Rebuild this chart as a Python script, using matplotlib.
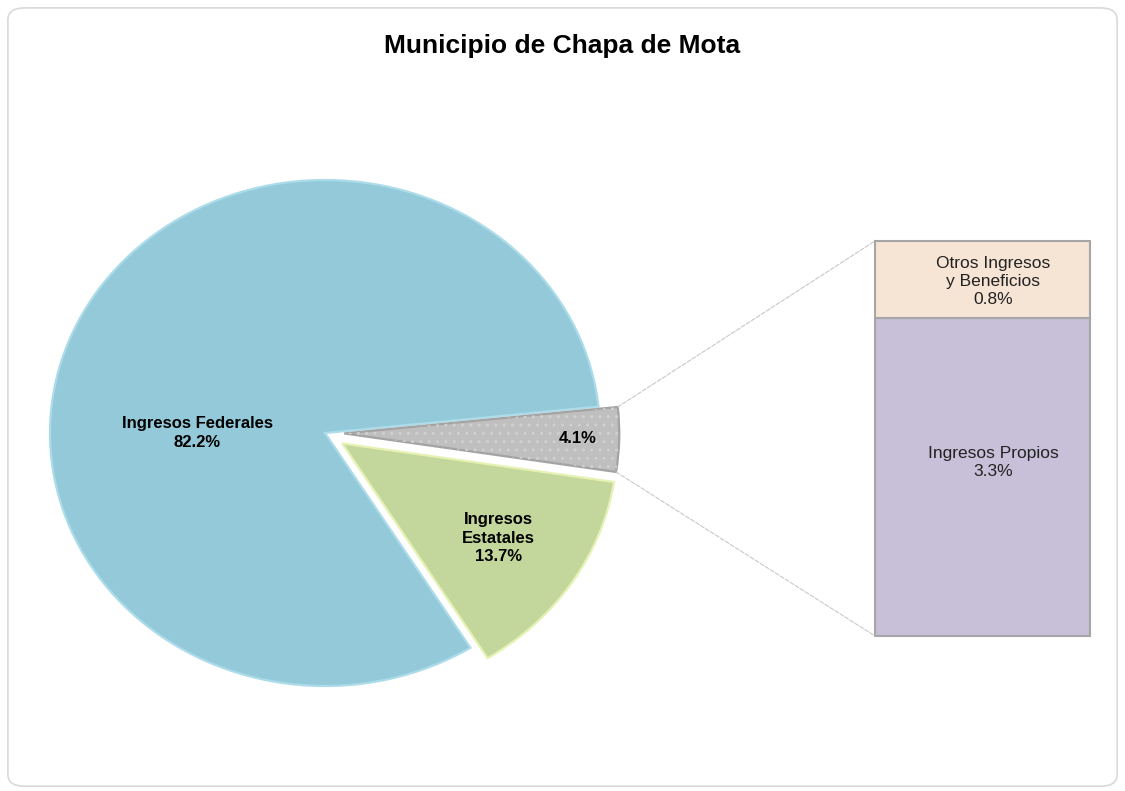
import numpy as np
import matplotlib
matplotlib.use('Agg')
import matplotlib.pyplot as plt
from matplotlib.patches import FancyBboxPatch, ConnectionPatch, Wedge

# data
pie_labels = ['Ingresos Federales', 'Ingresos\nEstatales', '']
pie_values = [82.2, 13.7, 4.1]
pie_colors = ['#93C9D8', '#C3D69B', '#BFBFBF']
pie_edges = ['#ACDCEA', '#E6F2B4', '#A3A3A3']
pie_explode = [0, 0.075, 0.07]

bar_labels = ['Ingresos Propios', 'Otros Ingresos\ny Beneficios']
bar_values = [3.3, 0.8]
bar_colors = ['#C8BFD8', '#F6E4D4']

title = 'Municipio de Chapa de Mota'

W, H = 1125, 791
fig = plt.figure(figsize=(W / 100, H / 100), dpi=100)
fig.patches.append(FancyBboxPatch((0.007, 0.006), 0.986, 0.984,
                                  boxstyle='round,pad=0,rounding_size=0.015',
                                  transform=fig.transFigure, fc='white',
                                  ec='#D9D9D9', lw=1.2, zorder=-1))

fig.text(0.4996, 1 - 46 / H, title, ha='center', va='center', fontsize=19,
         fontweight='bold', family='Liberation Sans')

# pie: center ~ (325, 433) px, radius ~275 x 253 px
cx, cy, rx, ry = 325, 433, 275, 253
ax1 = fig.add_axes([(cx - 1.25 * rx) / W, (H - cy - 1.25 * ry) / H,
                    2.5 * rx / W, 2.5 * ry / H])
wedges, _ = ax1.pie(pie_values, startangle=6, explode=pie_explode,
                    colors=pie_colors, wedgeprops=dict(linewidth=1.6))
for w, ec in zip(wedges, pie_edges):
    w.set_edgecolor(ec)
ax1.set_aspect('auto')
ax1.set_xlim(-1.25, 1.25)
ax1.set_ylim(-1.25, 1.25)

# dotted texture on the small slice
g = wedges[2]
ax1.add_patch(Wedge(g.center, g.r, g.theta1, g.theta2, fc='none',
                    ec='#D0D0D0', lw=0, hatch='..'))

lab_font = dict(fontsize=12, fontweight='bold', family='Liberation Sans',
                ha='center', va='center', linespacing=1.3)
ax1.text(-0.465, 0.0, pie_labels[0] + '\n' + f'{pie_values[0]:.1f}%', **lab_font)

def mid_point(w, d):
    a = np.radians((w.theta1 + w.theta2) / 2)
    return w.center[0] + d * np.cos(a), w.center[1] + d * np.sin(a)

x, y = mid_point(wedges[1], 0.68)
ax1.text(x, y, pie_labels[1] + '\n' + f'{pie_values[1]:.1f}%', **lab_font)
x, y = mid_point(wedges[2], 0.85)
ax1.text(x, y, f'{pie_values[2]:.1f}%', **lab_font)

# stacked bar: x 875..1090, y 241..636 px
ax2 = fig.add_axes([875 / W, (H - 636) / H, 215 / W, 395 / H])
bottom = 0
for v, c in zip(bar_values, bar_colors):
    ax2.bar(0, v, width=1, bottom=bottom, color=c, edgecolor='#A6A6A6',
            lw=1.5, clip_on=False)
    bottom += v
total = sum(bar_values)
ax2.set_xlim(-0.5, 0.5)
ax2.set_ylim(0, total)
ax2.axis('off')

bar_font = dict(fontsize=12.5, family='Liberation Sans', ha='center',
                va='center', linespacing=1.25, color='#222222')
ax2.text(0.05, 1.8, bar_labels[0] + '\n' + f'{bar_values[0]:.1f}%', **bar_font)
ax2.text(0.05, bar_values[0] + 0.38, bar_labels[1] + '\n' + f'{bar_values[1]:.1f}%', **bar_font)

# connector lines
for ang, yb in [(g.theta2, total), (g.theta1, 0)]:
    a = np.radians(ang)
    p = (g.center[0] + g.r * np.cos(a), g.center[1] + g.r * np.sin(a))
    fig.add_artist(ConnectionPatch(xyA=p, coordsA=ax1.transData,
                                   xyB=(-0.5, yb), coordsB=ax2.transData,
                                   ls='--', color='#C8C8C8', lw=0.8))

fig.savefig('out.png', dpi=100)
